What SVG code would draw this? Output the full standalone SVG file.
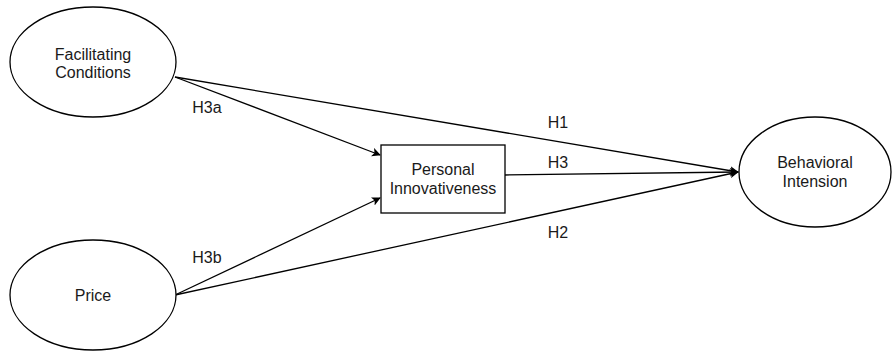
<svg xmlns="http://www.w3.org/2000/svg" width="892" height="353" viewBox="0 0 892 353">
<style>
.n{fill:#fff;stroke:#000;stroke-width:1.3}
.t{font-family:"Liberation Sans",Arial,sans-serif;font-size:16px;fill:#1a1a1a;text-anchor:middle}
.c{stroke:#000;stroke-width:1.3;fill:none;marker-end:url(#a)}
</style>
<defs>
<marker id="a" viewBox="0 0 10 10" refX="9" refY="5" markerWidth="9" markerHeight="9" markerUnits="userSpaceOnUse" orient="auto">
<path d="M0,0 L10,5 L0,10 L2.5,5 Z" fill="#000"/>
</marker>
</defs>
<rect width="892" height="353" fill="#fff"/>
<g id="connectors">
<path class="c" d="M175,77 L380,155"/>
<path class="c" d="M175,295 L380,198"/>
<path class="c" d="M175,77 L738,172"/>
<path class="c" d="M505,175 L738,172"/>
<path class="c" d="M175,295 L738,172"/>
<text class="t" x="207" y="113">H3a</text>
<text class="t" x="207" y="263">H3b</text>
<text class="t" x="558" y="128">H1</text>
<text class="t" x="558" y="168">H3</text>
<text class="t" x="558" y="238">H2</text>
</g>
<g id="facilitating">
<ellipse class="n" cx="93" cy="62" rx="83" ry="55"/>
<text class="t" x="93" y="60">Facilitating</text>
<text class="t" x="93" y="78">Conditions</text>
</g>
<g id="price">
<ellipse class="n" cx="93" cy="295" rx="83" ry="55"/>
<text class="t" x="93" y="301">Price</text>
</g>
<g id="personal">
<rect class="n" x="381" y="145" width="124" height="68"/>
<text class="t" x="443" y="175">Personal</text>
<text class="t" x="443" y="194">Innovativeness</text>
</g>
<g id="behavioral">
<ellipse class="n" cx="815" cy="172" rx="76" ry="55"/>
<text class="t" x="815" y="168">Behavioral</text>
<text class="t" x="815" y="187">Intension</text>
</g>
</svg>
